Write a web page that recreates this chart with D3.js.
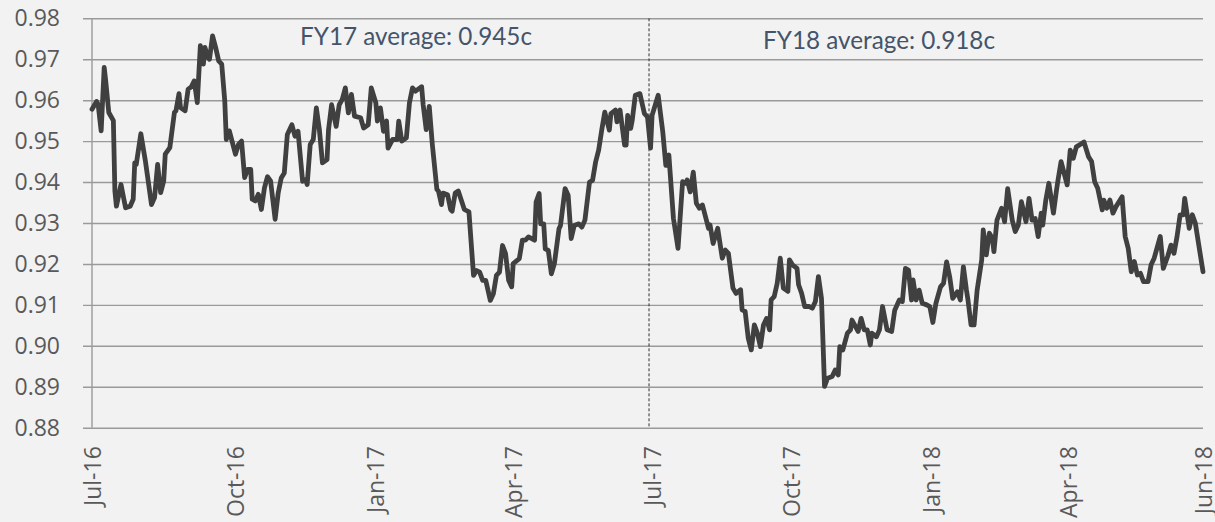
<!DOCTYPE html>
<html>
<head>
<meta charset="utf-8">
<script src="https://cdnjs.cloudflare.com/ajax/libs/d3/7.8.5/d3.min.js"></script>
<style>
    body { margin: 0; background: #f2f2f2; }
    svg { display: block; }
</style>
</head>
<body>
<script>

// days since 1 Jul 2016
var days = [
    0, 3, 4, 6, 8, 9, 11, 14, 15, 16,
    19, 22, 25, 27, 28, 29, 32, 35, 39, 41,
    43, 45, 47, 48, 51, 54, 55, 57, 58, 61,
    63, 65, 67, 69, 71, 73, 74, 76, 77, 79,
    81, 83, 85, 87, 88, 90, 94, 96, 98, 100,
    102, 104, 105, 107, 109, 111, 113, 115, 117, 120,
    122, 124, 126, 128, 131, 133, 135, 138, 140, 141,
    143, 145, 147, 149, 151, 154, 155, 157, 160, 162,
    164, 166, 168, 170, 172, 176, 178, 181, 183, 186,
    187, 189, 191, 193, 194, 197, 200, 201, 203, 206,
    208, 210, 212, 216, 217, 219, 221, 223, 226, 227,
    229, 230, 233, 235, 236, 238, 240, 244,
    247, 250, 252, 254, 256, 258, 261, 263, 265, 267,
    269, 271, 273, 275, 276, 280, 282, 284, 286, 290,
    291, 293, 294, 296, 297, 299, 301, 303, 306, 307,
    310, 312, 314, 316, 319, 321, 323, 326, 328, 330,
    332, 334, 336, 339, 340, 343, 344, 346, 349, 350,
    351, 353, 354, 356, 359, 362, 364, 366, 367, 371,
    374, 376, 378, 381, 384, 387, 389, 390, 392, 394,
    396, 398, 400, 404, 405, 407, 410, 413, 415, 417,
    420, 422, 425, 426, 428, 430, 432, 434, 436, 438,
    440, 442, 444, 445, 447, 449, 451, 453, 456, 457,
    459, 462, 463, 465, 467, 470, 472, 474, 476, 478,
    480, 482, 485,
    487, 489, 490, 492, 495, 497, 498, 502, 504, 506,
    508, 510, 511, 514, 516, 518, 521, 524, 526, 529,
    531, 533, 535, 537, 538, 540, 542, 544, 547, 549,
    551, 553, 556, 558, 560, 562, 564, 567, 569, 571,
    573, 574, 576, 578, 580, 583, 584, 586, 588, 590,
    591, 593, 596, 598, 600, 603, 605, 607,
    609, 612, 614, 616, 618, 620, 622, 623, 625, 627,
    630, 632, 633, 635, 639, 641, 643, 645, 648, 650,
    653, 655, 657, 659, 662, 663, 665, 667, 669, 671,
    675, 677, 679, 681, 683, 685, 687, 689, 692, 694,
    696, 700, 702, 705, 707, 709, 711, 713, 715, 716,
    717, 719, 721, 723, 728
];

var rates = [
    .9578, .9597, .9590, .9525, .9680, .9647, .9570, .9550, .9378, .9341,
    .9394, .9337, .9341, .9358, .9447, .9443, .9518, .9451, .9345, .9362,
    .9443, .9374, .9403, .9468, .9484, .9570, .9574, .9616, .9582, .9574,
    .9627, .9632, .9647, .9594, .9733, .9688, .9729, .9704, .9700, .9757,
    .9729, .9696, .9688, .9598, .9504, .9525, .9468, .9492, .9500, .9411,
    .9431, .9431, .9358, .9354, .9370, .9333, .9386, .9413, .9403, .9309,
    .9373, .9410, .9422, .9516, .9540, .9512, .9524, .9402, .9406, .9394,
    .9492, .9504, .9581, .9528, .9447, .9455, .9528, .9589, .9536, .9589,
    .9602, .9630, .9569, .9614, .9561, .9557, .9532, .9540, .9630, .9593,
    .9549, .9581, .9524, .9549, .9483, .9504, .9504, .9549, .9500, .9508,
    .9593, .9630, .9622, .9633, .9589, .9528, .9585, .9492, .9382, .9378,
    .9345, .9373, .9369, .9333, .9329, .9373, .9378, .9333,
    .9327, .9172, .9184, .9180, .9160, .9160, .9111, .9127, .9172, .9180,
    .9245, .9225, .9160, .9144, .9201, .9213, .9258, .9258, .9266, .9258,
    .9351, .9372, .9298, .9298, .9237, .9233, .9176, .9201, .9286, .9294,
    .9384, .9368, .9262, .9294, .9298, .9290, .9307, .9400, .9404, .9449,
    .9478, .9527, .9571, .9527, .9567, .9576, .9547, .9576, .9490, .9490,
    .9563, .9531, .9551, .9612, .9616, .9567, .9559, .9483, .9563, .9612,
    .9523, .9441, .9466, .9311, .9238, .9401, .9397, .9405, .9376, .9424,
    .9348, .9336, .9344, .9287, .9295, .9250, .9287, .9214, .9234, .9226,
    .9141, .9128, .9137, .9088, .9084, .9019, .8990, .9051, .9031, .8998,
    .9051, .9067, .9039, .9112, .9120, .9153, .9214, .9141, .9133, .9210,
    .9198, .9189, .9149, .9128, .9096, .9096, .9092, .9108, .9169, .9116,
    .8901, .8921, .8925,
    .8941, .8929, .8998, .8990, .9031, .9039, .9063, .9035, .9067, .9039,
    .9039, .9002, .9031, .9022, .9039, .9096, .9039, .9035, .9087, .9112,
    .9108, .9189, .9185, .9112, .9161, .9112, .9136, .9104, .9100, .9096,
    .9057, .9104, .9144, .9153, .9205, .9169, .9116, .9132, .9112, .9193,
    .9136, .9112, .9051, .9051, .9136, .9210, .9283, .9222, .9275, .9262,
    .9230, .9307, .9336, .9303, .9384, .9307, .9279, .9295,
    .9352, .9303, .9360, .9307, .9311, .9267, .9324, .9295, .9356, .9397,
    .9324, .9380, .9405, .9450, .9393, .9478, .9458, .9486, .9493, .9498,
    .9462, .9450, .9401, .9385, .9332, .9356, .9336, .9356, .9324, .9340,
    .9364, .9267, .9238, .9181, .9206, .9173, .9177, .9157, .9157, .9198,
    .9214, .9267, .9189, .9220, .9246, .9226, .9267, .9320, .9320, .9360,
    .9336, .9287, .9320, .9299, .9181
];

var yTicks = [0.88, 0.89, 0.90, 0.91, 0.92, 0.93, 0.94, 0.95, 0.96, 0.97, 0.98];
var xTickDates = ["2016-07-01", "2016-10-03", "2017-01-03", "2017-04-03", "2017-07-03",
                  "2017-10-02", "2018-01-02", "2018-04-02", "2018-06-29"];
var fyBoundary = "2017-07-01";
var fyNotes = ["FY17 average: 0.945c", "FY18 average: 0.918c"];

window.onload = function() {

    var parseDate = d3.timeParse("%Y-%m-%d");
    var startDate = parseDate("2016-07-01");

    // pair up the dates and rates
    var data = days.map(function(d, i) {
        return { date: d3.timeDay.offset(startDate, d), rate: rates[i] };
    });

    var outerWidth = 1215;
    var outerHeight = 522;
    var margin = { top: 18.3, right: 12, bottom: 94.3, left: 92 };
    var width = outerWidth - margin.left - margin.right;
    var height = outerHeight - margin.top - margin.bottom;

    var svg = d3.select("body").append("svg")
        .attr("width", outerWidth)
        .attr("height", outerHeight)
        .append("g")
        .attr("transform", "translate(" + margin.left + "," + margin.top + ")");

    var x = d3.scaleTime()
        .domain([startDate, parseDate("2018-06-29")])
        .range([0, width]);

    var y = d3.scaleLinear()
        .domain([0.88, 0.98])
        .range([height, 0]);

    // y axis with gridlines across the plot
    var yAxis = svg.append("g")
        .call(d3.axisLeft(y)
            .tickValues(yTicks)
            .tickSize(-width)
            .tickPadding(32)
            .tickFormat(d3.format(".2f")));

    yAxis.select(".domain").remove();
    yAxis.selectAll(".tick line")
        .attr("x1", -9)
        .attr("stroke", "#9a9a9a")
        .attr("stroke-width", 1.4);
    yAxis.selectAll(".tick text")
        .attr("fill", "#595959")
        .style("font-family", "'Open Sans', sans-serif")
        .style("font-size", "23px");

    // vertical axis line
    svg.append("line")
        .attr("x1", 0).attr("x2", 0)
        .attr("y1", 0).attr("y2", height)
        .attr("stroke", "#9a9a9a")
        .attr("stroke-width", 1.4);

    // x axis labels, rotated
    var xAxis = svg.append("g")
        .attr("transform", "translate(0," + height + ")")
        .call(d3.axisBottom(x)
            .tickValues(xTickDates.map(parseDate))
            .tickSize(0)
            .tickFormat(d3.timeFormat("%b-%y")));

    xAxis.select(".domain").remove();
    xAxis.selectAll(".tick text")
        .attr("transform", "rotate(-90)")
        .attr("x", -18.5)
        .attr("y", 0)
        .attr("dy", "0.35em")
        .style("text-anchor", "end")
        .attr("fill", "#595959")
        .style("font-family", "'Open Sans', sans-serif")
        .style("font-size", "23px");

    // dashed line at the financial year boundary
    svg.append("line")
        .attr("x1", x(parseDate(fyBoundary)))
        .attr("x2", x(parseDate(fyBoundary)))
        .attr("y1", y(0.98))
        .attr("y2", y(0.88))
        .attr("stroke", "#303030")
        .attr("stroke-width", 1)
        .attr("stroke-dasharray", "3,2");

    // the exchange rate line
    var line = d3.line()
        .x(function(d) { return x(d.date); })
        .y(function(d) { return y(d.rate); });

    svg.append("path")
        .datum(data)
        .attr("d", line)
        .attr("fill", "none")
        .attr("stroke", "#404040")
        .attr("stroke-width", 4.8)
        .attr("stroke-linejoin", "round")
        .attr("stroke-linecap", "round");

    // financial year average notes
    var notePos = [{ x: 300, y: 45.5 }, { x: 763, y: 49 }];

    svg.selectAll(".fyNote")
        .data(fyNotes)
        .enter()
        .append("text")
        .attr("class", "fyNote")
        .attr("x", function(d, i) { return notePos[i].x - margin.left; })
        .attr("y", function(d, i) { return notePos[i].y - margin.top; })
        .attr("textLength", 232)
        .attr("lengthAdjust", "spacingAndGlyphs")
        .attr("fill", "#44546a")
        .style("font-family", "Lato, sans-serif")
        .style("font-size", "25.5px")
        .text(function(d) { return d; });
};

</script>
</body>
</html>
